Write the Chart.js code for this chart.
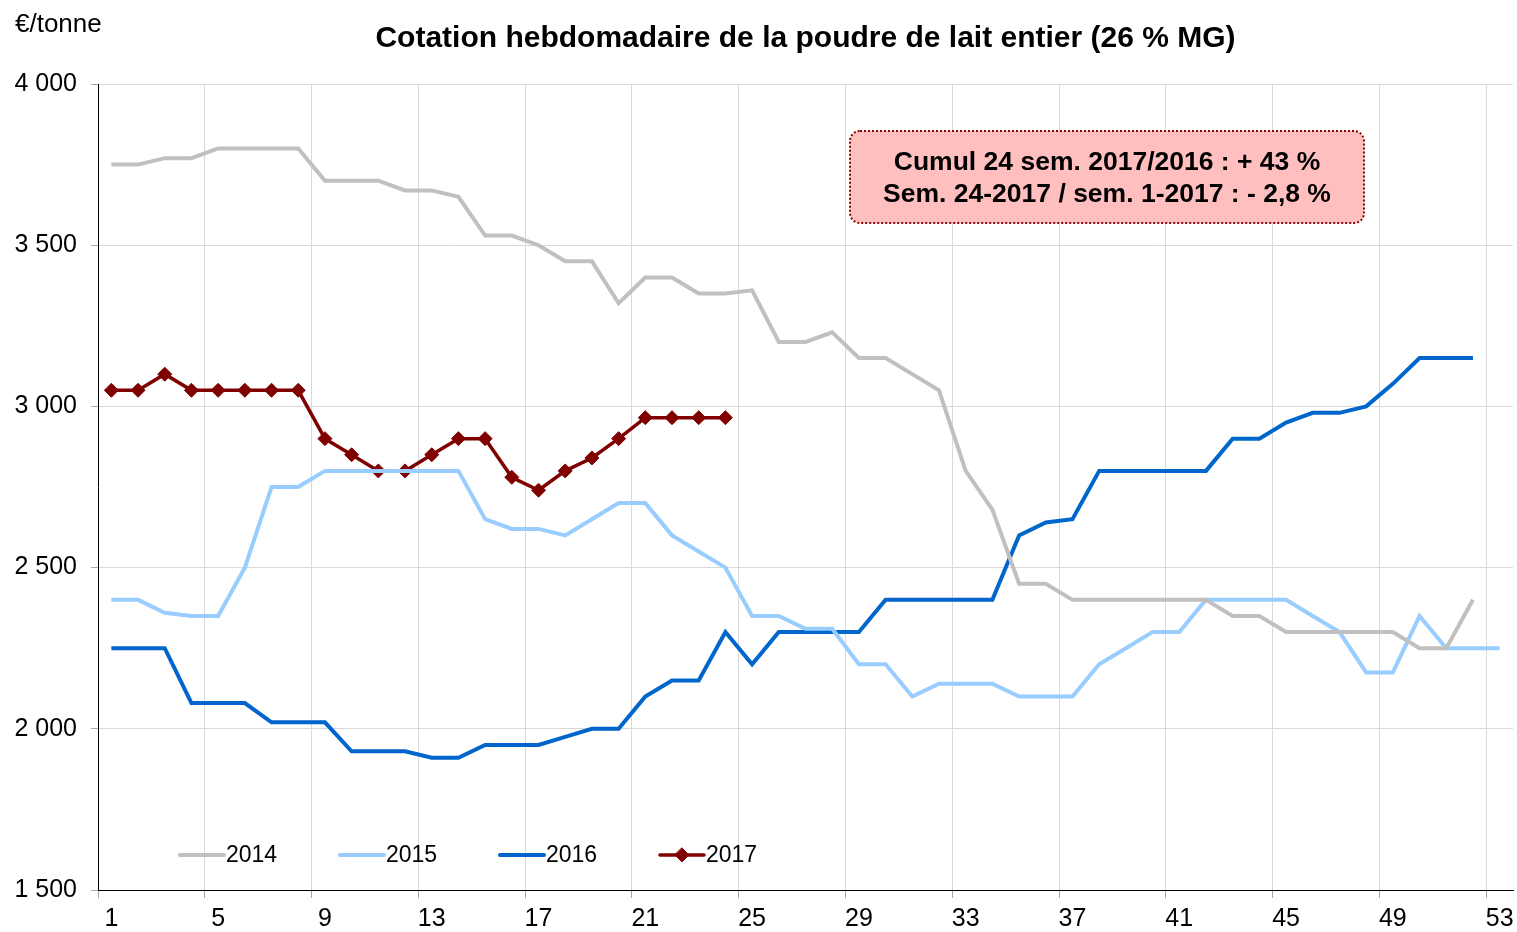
<!DOCTYPE html>
<html><head><meta charset="utf-8">
<script src="https://cdn.jsdelivr.net/npm/chart.js@4.4.1/dist/chart.umd.min.js"></script>
<style>html,body{margin:0;padding:0;background:#fff;}</style>
</head><body>
<canvas id="c" width="1517" height="932"></canvas>
<script>
const weeks = ['1','2','3','4','5','6','7','8','9','10','11','12','13','14','15','16','17','18','19','20','21','22','23','24','25','26','27','28','29','30','31','32','33','34','35','36','37','38','39','40','41','42','43','44','45','46','47','48','49','50','51','52','53'];
const y2014 = [3750,3750,3770,3770,3800,3800,3800,3800,3700,3700,
               3700,3670,3670,3650,3530,3530,3500,3450,3450,3320,
               3400,3400,3350,3350,3360,3200,3200,3230,3150,3150,
               3100,3050,2800,2680,2450,2450,2400,2400,2400,2400,
               2400,2400,2350,2350,2300,2300,2300,2300,2300,2250,
               2250,2400];
const y2015 = [2400,2400,2360,2350,2350,2500,2750,2750,2800,2800,
               2800,2800,2800,2800,2650,2620,2620,2600,2650,2700,
               2700,2600,2550,2500,2350,2350,2310,2310,2200,2200,
               2100,2140,2140,2140,2100,2100,2100,2200,2250,2300,
               2300,2400,2400,2400,2400,2350,2300,2175,2175,2350,
               2250,2250,2250];
const y2016 = [2250,2250,2250,2080,2080,2080,2020,2020,2020,1930,
               1930,1930,1910,1910,1950,1950,1950,1975,2000,2000,
               2100,2150,2150,2300,2200,2300,2300,2300,2300,2400,
               2400,2400,2400,2400,2600,2640,2650,2800,2800,2800,
               2800,2800,2900,2900,2950,2980,2980,3000,3070,3150,
               3150,3150];
const y2017 = [3050,3050,3100,3050,3050,3050,3050,3050,2900,2850,
               2800,2800,2850,2900,2900,2780,2740,2800,2840,2900,
               2965,2965,2965,2965];
const seriesNames = ['2014','2015','2016','2017'];
const yTicks = [1500,2000,2500,3000,3500,4000];
const titleText = 'Cotation hebdomadaire de la poudre de lait entier (26 % MG)';
const unitText = '€/tonne';
const noteLines = ['Cumul 24 sem. 2017/2016 : + 43 %', 'Sem. 24-2017 / sem. 1-2017 : - 2,8 %'];

const FONT = '"Liberation Sans", Arial, sans-serif';
const gridCol = '#D9D9D9';

const extras = {
  id: 'extras',
  afterDraw(chart) {
    const ctx = chart.ctx, ca = chart.chartArea;
    ctx.save();
    ctx.fillStyle = '#000';
    ctx.font = '26px ' + FONT;
    ctx.textAlign = 'left'; ctx.textBaseline = 'middle';
    ctx.fillText(unitText, 15, 25);
    ctx.font = 'bold 30px ' + FONT;
    ctx.textAlign = 'center';
    ctx.fillText(titleText, (ca.left + ca.right) / 2, 39);
    const bx = 850, by = 131, bw = 514, bh = 92, r = 10;
    ctx.beginPath();
    ctx.roundRect(bx, by, bw, bh, r);
    ctx.fillStyle = '#FFBFBF';
    ctx.fill();
    ctx.setLineDash([2, 2]);
    ctx.lineWidth = 2;
    ctx.strokeStyle = '#8B0000';
    ctx.stroke();
    ctx.setLineDash([]);
    ctx.fillStyle = '#000';
    ctx.font = 'bold 26.5px ' + FONT;
    ctx.fillText(noteLines[0], bx + bw / 2, 163);
    ctx.fillText(noteLines[1], bx + bw / 2, 195);
    ctx.font = '23px ' + FONT;
    ctx.textAlign = 'left';
    chart.data.datasets.forEach((ds, i) => {
      const x0 = 180 + 160 * i, y = ca.bottom - 35;
      ctx.beginPath();
      ctx.moveTo(x0, y); ctx.lineTo(x0 + 44, y);
      ctx.strokeStyle = ds.borderColor;
      ctx.lineWidth = ds.borderWidth;
      ctx.lineCap = 'round';
      ctx.stroke();
      if (ds.pointRadius > 0) {
        ctx.fillStyle = ds.pointBackgroundColor;
        ctx.strokeStyle = ds.pointBorderColor;
        ctx.lineWidth = 1;
        ctx.beginPath();
        const rr = ds.pointRadius;
        ctx.moveTo(x0 + 22, y - rr); ctx.lineTo(x0 + 22 + rr, y); ctx.lineTo(x0 + 22, y + rr); ctx.lineTo(x0 + 22 - rr, y); ctx.closePath();
        ctx.fill(); ctx.stroke();
      }
      ctx.fillStyle = '#000';
      ctx.fillText(ds.label, x0 + 46, y + 1);
    });
    ctx.restore();
  }
};

new Chart(document.getElementById('c'), {
  type: 'line',
  data: {
    labels: weeks,
    datasets: [
      {label: seriesNames[0], data: y2014, borderColor: '#C0C0C0', borderWidth: 4, pointRadius: 0, tension: 0},
      {label: seriesNames[1], data: y2015, borderColor: '#99CCFF', borderWidth: 4, pointRadius: 0, tension: 0},
      {label: seriesNames[2], data: y2016, borderColor: '#0066CC', borderWidth: 4, pointRadius: 0, tension: 0},
      {label: seriesNames[3], data: y2017, borderColor: '#800000', borderWidth: 3.5, pointRadius: 7, pointStyle: 'rectRot',
       pointBackgroundColor: '#800000', pointBorderColor: '#800000', pointBorderWidth: 1, tension: 0}
    ]
  },
  options: {
    responsive: false,
    animation: false,
    events: [],
    layout: {autoPadding: false, padding: {top: 84, right: 4, left: 0, bottom: 0}},
    plugins: {legend: {display: false}, title: {display: false}, tooltip: {enabled: false}},
    scales: {
      x: {
        type: 'category',
        offset: true,
        afterFit: (s) => { s.height = 42; s.paddingLeft = 0; s.paddingRight = 0; },
        grid: {
          offset: true,
          drawOnChartArea: true,
          color: (c) => (c.index % 4 === 0 && c.index > 0 ? gridCol : 'rgba(0,0,0,0)'),
          tickColor: (c) => (c.index % 4 === 0 ? '#A6A6A6' : 'rgba(0,0,0,0)'),
          tickLength: 8,
          lineWidth: 1
        },
        border: {color: '#000', width: 1},
        ticks: {
          autoSkip: false, maxRotation: 0, minRotation: 0,
          padding: 6,
          color: '#000',
          font: {family: FONT, size: 25},
          callback: function(v, i) { return i % 4 === 0 ? this.getLabelForValue(v) : ''; }
        }
      },
      y: {
        min: 1500, max: 4000,
        afterFit: (s) => { s.width = 98; s.paddingTop = 0; s.paddingBottom = 0; },
        afterBuildTicks: (s) => { s.ticks = yTicks.map(v => ({value: v})); },
        grid: {color: gridCol, tickColor: '#A6A6A6', tickLength: 7, lineWidth: 1},
        border: {color: '#000', width: 1},
        ticks: {
          padding: 14,
          color: '#000',
          font: {family: FONT, size: 25},
          callback: (v) => String(v).replace(/\B(?=(\d{3})+(?!\d))/g, ' ')
        }
      }
    }
  },
  plugins: [extras]
});
</script>
</body></html>
